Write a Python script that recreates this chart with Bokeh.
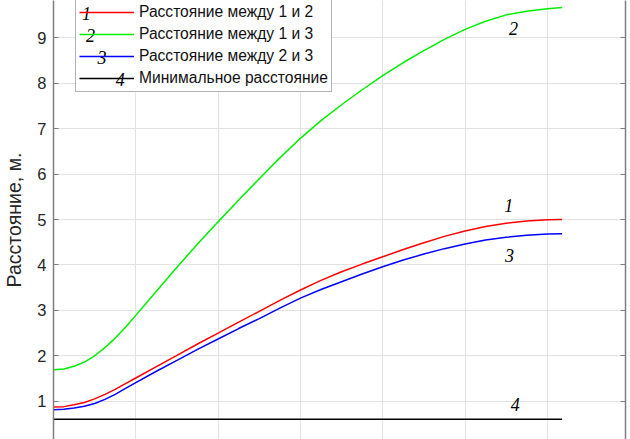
from bokeh.plotting import figure
from bokeh.models import (Legend, LegendItem, LinearAxis, FixedTicker, Grid,
                          Range1d, Label, CustomJSTickFormatter, BoxAnnotation)
from bokeh.embed import file_html
from bokeh.resources import INLINE

# ---- data ----
t = [0, 0.125, 0.25, 0.375, 0.5, 0.625, 0.75, 0.875, 1, 1.25, 1.5, 1.75, 2, 2.25, 2.5,
     2.75, 3, 3.25, 3.5, 3.75, 4, 4.25, 4.5, 4.75, 5, 5.25, 5.5, 5.75, 6, 6.18]
d12 = [0.87, 0.88, 0.92, 0.97, 1.05, 1.15, 1.26, 1.385, 1.51, 1.76, 2.01, 2.26, 2.50,
       2.74, 2.98, 3.22, 3.45, 3.66, 3.85, 4.02, 4.18, 4.34, 4.49, 4.63, 4.75, 4.85,
       4.92, 4.97, 4.995, 5.00]
d13 = [1.69, 1.71, 1.77, 1.86, 2.00, 2.18, 2.39, 2.63, 2.89, 3.42, 3.95, 4.46, 4.95,
       5.43, 5.90, 6.36, 6.79, 7.18, 7.53, 7.86, 8.17, 8.46, 8.72, 8.97, 9.19, 9.37,
       9.51, 9.59, 9.645, 9.67]
d23 = [0.81, 0.82, 0.85, 0.89, 0.95, 1.04, 1.15, 1.28, 1.41, 1.66, 1.90, 2.14, 2.37,
       2.60, 2.82, 3.05, 3.27, 3.46, 3.63, 3.80, 3.96, 4.11, 4.24, 4.36, 4.46, 4.55,
       4.61, 4.655, 4.68, 4.69]
t_min = [0, 6.18]
d_min = [0.6, 0.6]

series_labels = ["Расстояние между 1 и 2", "Расстояние между 1 и 3",
                 "Расстояние между 2 и 3", "Минимальное расстояние"]
series_colors = ["#ff0000", "#00ee00", "#0000ff", "#000000"]
y_ticks = [1, 2, 3, 4, 5, 6, 7, 8, 9]
x_grid_ticks = [1, 2, 3, 4, 5, 6]
y_label = "Расстояние, м."

# curve number annotations
curve_nums = ["1", "2", "3", "4"]
curve_num_x = [5.53, 5.59, 5.54, 5.61]
curve_num_y = [5.31, 9.21, 4.21, 0.93]
# numbers drawn over the legend lines
legend_num_x = [0.40, 0.45, 0.59, 0.81]
legend_num_y = [9.54, 9.06, 8.57, 8.09]

axis_gray = "#7f7f7f"
text_col = "#262626"

p = figure(width=630, height=439, x_range=Range1d(0, 6.95), y_range=Range1d(0.156, 9.826),
           output_backend="svg", toolbar_location=None, x_axis_location=None,
           y_axis_location="left", min_border_left=51, min_border_right=5,
           min_border_top=0, min_border_bottom=0, outline_line_color=None,
           background_fill_color="white", border_fill_color="white")

# grids
p.ygrid.ticker = FixedTicker(ticks=y_ticks)
p.ygrid.grid_line_color = "#e2e2e2"
if len(p.xgrid) == 0:
    p.add_layout(Grid(dimension=0, ticker=FixedTicker(ticks=x_grid_ticks),
                      grid_line_color="#e2e2e2"))
else:
    p.xgrid.ticker = FixedTicker(ticks=x_grid_ticks)
    p.xgrid.grid_line_color = "#e2e2e2"

# left axis
ya = p.yaxis[0]
ya.ticker = FixedTicker(ticks=y_ticks)
ya.major_tick_in = 5
ya.major_tick_out = 0
ya.minor_tick_line_color = None
ya.axis_line_color = axis_gray
ya.axis_line_width = 1.5
ya.major_tick_line_color = axis_gray
ya.major_label_text_font = "Liberation Sans"
ya.major_label_text_font_size = "16.5px"
ya.major_label_text_color = text_col
ya.major_label_standoff = 7
ya.axis_label = y_label
ya.axis_label_text_font = "Liberation Sans"
ya.axis_label_text_font_size = "19.5px"
ya.axis_label_text_font_style = "normal"
ya.axis_label_text_color = text_col
ya.axis_label_standoff = 9

# right axis (box ticks)
ra = LinearAxis(ticker=FixedTicker(ticks=y_ticks), major_tick_in=5, major_tick_out=0,
                minor_tick_line_color=None, axis_line_color=axis_gray, axis_line_width=1.5,
                major_tick_line_color=axis_gray, major_label_standoff=0,
                major_label_text_font_size="1px",
                formatter=CustomJSTickFormatter(code="return ''"))
p.add_layout(ra, "right")

# opaque white area behind the legend (the legend itself is transparent so the
# italic numbers can show on its sample lines)
p.add_layout(BoxAnnotation(left=0.267, right=3.38, bottom=7.80, top=10.0,
                           fill_color="white", fill_alpha=1.0, line_color=None,
                           level="underlay"))

r12 = p.line(t, d12, line_color=series_colors[0], line_width=1.5)
r13 = p.line(t, d13, line_color=series_colors[1], line_width=1.5)
r23 = p.line(t, d23, line_color=series_colors[2], line_width=1.5)
rmin = p.line(t_min, d_min, line_color=series_colors[3], line_width=1.5)

legend = Legend(items=[LegendItem(label=series_labels[i], renderers=[r])
                       for i, r in enumerate([r12, r13, r23, rmin])],
                location=(22, 347), margin=0, padding=3, spacing=2,
                glyph_width=55, glyph_height=20, label_height=20, label_standoff=5,
                label_text_font="Liberation Sans", label_text_font_size="15.6px",
                label_text_color="#111111", border_line_color="#666666",
                border_line_width=1.5, background_fill_alpha=0.0)
p.add_layout(legend)

for s, x, y in zip(curve_nums, legend_num_x, legend_num_y):
    p.add_layout(Label(x=x, y=y, text=s, text_font="Liberation Serif",
                       text_font_style="italic", text_font_size="18px", level="overlay",
                       text_align="center", text_baseline="middle", text_color="black"))
for s, x, y in zip(curve_nums, curve_num_x, curve_num_y):
    p.add_layout(Label(x=x, y=y, text=s, text_font="Liberation Serif",
                       text_font_style="italic", text_font_size="18px", level="overlay",
                       text_align="center", text_baseline="middle", text_color="black"))

open("out.html", "w").write(file_html(p, INLINE))
